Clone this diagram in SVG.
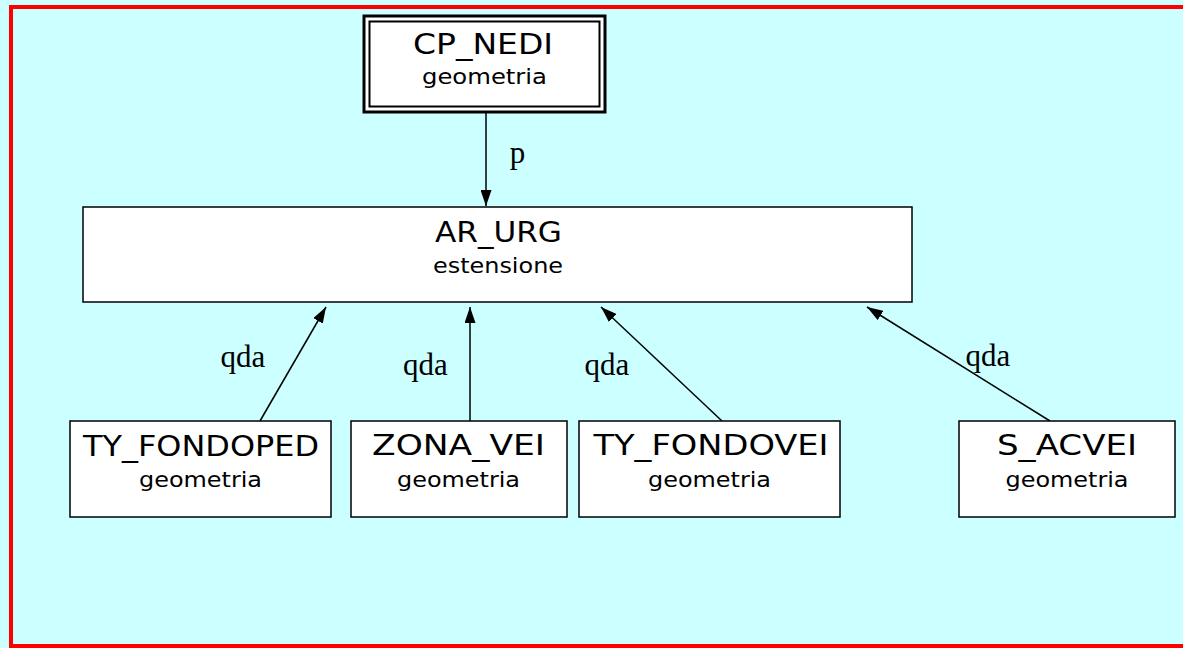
<svg xmlns="http://www.w3.org/2000/svg" width="1183" height="648" viewBox="0 0 1183 648">
<defs>
<style>
.box{fill:#fff;stroke:#000;stroke-width:1.5}
.t1{font-family:"Comic Sans MS","DejaVu Sans",sans-serif;font-size:28px;text-anchor:middle;fill:#000}
.t2{font-family:"Comic Sans MS","DejaVu Sans",sans-serif;font-size:21px;text-anchor:middle;fill:#000}
.lbl{font-family:"Liberation Serif","Times New Roman",serif;font-size:31px;text-anchor:middle;fill:#000}
.edge{stroke:#000;stroke-width:1.5;fill:none;marker-end:url(#ah)}
</style>
<marker id="ah" viewBox="0 0 16 11" refX="16" refY="5.5" markerWidth="16" markerHeight="11" markerUnits="userSpaceOnUse" orient="auto">
<path d="M0,0 L16,5.5 L0,11 Z" fill="#000"/>
</marker>
</defs>
<rect x="0" y="0" width="1183" height="648" fill="#ccffff"/>
<rect x="11" y="7" width="1182" height="639" fill="none" stroke="#ff0000" stroke-width="4"/>
<g id="edges">
<line class="edge" x1="486" y1="113" x2="486" y2="206"/>
<line class="edge" x1="260" y1="421" x2="326" y2="307"/>
<line class="edge" x1="470" y1="421" x2="470" y2="307"/>
<line class="edge" x1="722" y1="421" x2="601" y2="307"/>
<line class="edge" x1="1050" y1="421" x2="867" y2="307"/>
<text class="lbl" x="517.5" y="163">p</text>
<text class="lbl" x="243" y="367">qda</text>
<text class="lbl" x="425.5" y="375">qda</text>
<text class="lbl" x="607" y="375">qda</text>
<text class="lbl" x="988" y="366">qda</text>
</g>
<g id="CP_NEDI">
<rect x="364" y="16" width="241" height="96" fill="#fff" stroke="#000" stroke-width="3"/>
<rect x="369.5" y="21.5" width="230" height="85" fill="none" stroke="#000" stroke-width="2"/>
<text class="t1" x="483" y="54" textLength="140" lengthAdjust="spacingAndGlyphs">CP_NEDI</text>
<text class="t2" x="484.5" y="84" textLength="125" lengthAdjust="spacingAndGlyphs">geometria</text>
</g>
<g id="AR_URG">
<rect class="box" x="83" y="207" width="829" height="95"/>
<text class="t1" x="498.5" y="242" textLength="127" lengthAdjust="spacingAndGlyphs">AR_URG</text>
<text class="t2" x="498" y="273" textLength="130" lengthAdjust="spacingAndGlyphs">estensione</text>
</g>
<g id="TY_FONDOPED">
<rect class="box" x="70" y="421" width="261" height="96"/>
<text class="t1" x="201" y="456" textLength="236" lengthAdjust="spacingAndGlyphs">TY_FONDOPED</text>
<text class="t2" x="200.5" y="487" textLength="123" lengthAdjust="spacingAndGlyphs">geometria</text>
</g>
<g id="ZONA_VEI">
<rect class="box" x="351" y="421" width="216" height="96"/>
<text class="t1" x="458.5" y="455" textLength="173" lengthAdjust="spacingAndGlyphs">ZONA_VEI</text>
<text class="t2" x="458.5" y="487" textLength="123" lengthAdjust="spacingAndGlyphs">geometria</text>
</g>
<g id="TY_FONDOVEI">
<rect class="box" x="579" y="421" width="261" height="96"/>
<text class="t1" x="711" y="455" textLength="235" lengthAdjust="spacingAndGlyphs">TY_FONDOVEI</text>
<text class="t2" x="709.5" y="487" textLength="123" lengthAdjust="spacingAndGlyphs">geometria</text>
</g>
<g id="S_ACVEI">
<rect class="box" x="959" y="421" width="216" height="96"/>
<text class="t1" x="1067" y="455" textLength="140" lengthAdjust="spacingAndGlyphs">S_ACVEI</text>
<text class="t2" x="1067" y="487" textLength="123" lengthAdjust="spacingAndGlyphs">geometria</text>
</g>
</svg>
